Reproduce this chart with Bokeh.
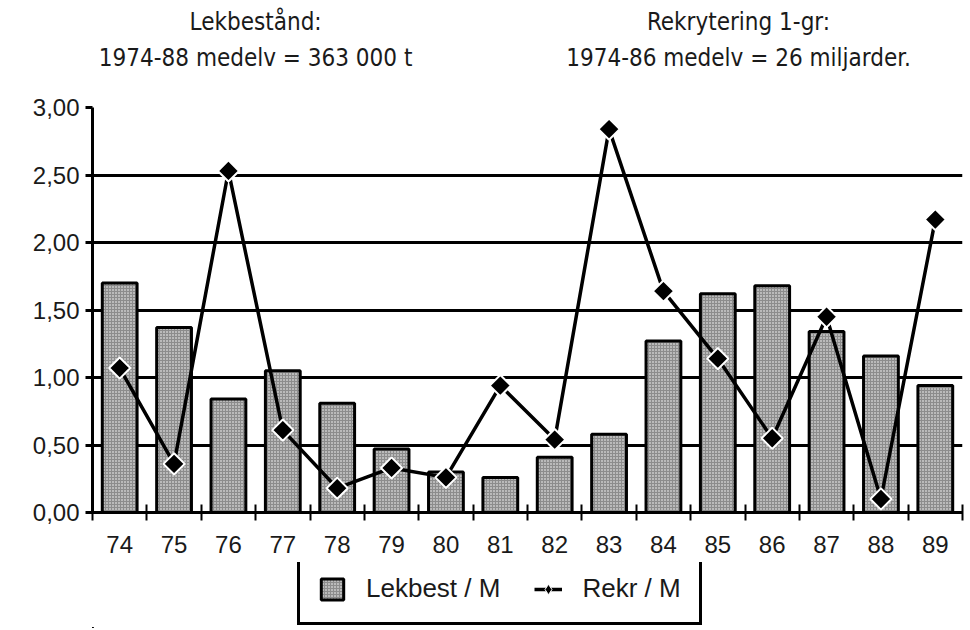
import numpy as np
from bokeh.plotting import figure
from bokeh.layouts import column
from bokeh.models import (ColumnDataSource, FixedTicker, Range1d, Legend, LegendItem)
from bokeh.core.properties import value
from bokeh.embed import file_html
from bokeh.resources import INLINE

years = ["74", "75", "76", "77", "78", "79", "80", "81", "82", "83", "84", "85", "86", "87", "88", "89"]
lekbest = [1.70, 1.37, 0.84, 1.05, 0.81, 0.47, 0.30, 0.26, 0.41, 0.58, 1.27, 1.62, 1.68, 1.34, 1.16, 0.94]
rekr = [1.07, 0.36, 2.53, 0.61, 0.18, 0.33, 0.26, 0.94, 0.54, 2.84, 1.64, 1.14, 0.55, 1.45, 0.10, 2.17]
y_ticks = [0.0, 0.5, 1.0, 1.5, 2.0, 2.5, 3.0]
y_tick_labels = ["0,00", "0,50", "1,00", "1,50", "2,00", "2,50", "3,00"]
title_left = ["Lekbestånd:", "1974-88 medelv = 363 000 t"]
title_right = ["Rekrytering 1-gr:", "1974-86 medelv = 26 miljarder."]
legend_labels = ["Lekbest / M", "Rekr / M"]

FONT = "Liberation Sans"
NARROW = "Liberation Sans Narrow, DejaVu Sans Condensed, Liberation Sans"
TXT = "#1a1a1a"

N = len(years)
W, LEFT, RIGHT = 964, 92, 2
xpos = [i + 0.5 for i in range(N)]
src = ColumnDataSource(dict(x=xpos, lek=lekbest, rekr=rekr))

BAR_STYLE = dict(fill_color="#8c8c8c", line_color="black", line_width=3,
                 hatch_pattern="dot", hatch_color="white", hatch_scale=3, hatch_weight=1.3)
LINE_STYLE = dict(line_color="black", line_width=3.5)
PT_STYLE = dict(marker="square", angle=np.pi / 4, size=15, fill_color="black",
                line_color="white", line_width=2)


def strip(height, xr, yr):
    f = figure(width=W, height=height, output_backend="svg", toolbar_location=None,
               x_axis_type=None, y_axis_type=None, x_range=xr, y_range=yr,
               min_border_left=LEFT, min_border_right=RIGHT, min_border_top=0, min_border_bottom=0)
    f.grid.visible = False
    f.outline_line_color = None
    return f


# ---- title strip (same horizontal scale as the chart) ----
TH = 93
t = strip(TH, Range1d(0, N), Range1d(0, TH))
tsrc = ColumnDataSource(dict(
    x=[3.0, 3.0, 11.88, 11.88],
    y=[TH - 21, TH - 57, TH - 21, TH - 57],
    text=[title_left[0], title_left[1], title_right[0], title_right[1]]))
t.text(x="x", y="y", text="text", source=tsrc, text_align="center", text_baseline="middle",
       text_font=value(NARROW), text_font_size="24px", text_color=TXT)

# ---- main chart ----
p = figure(width=W, height=469, output_backend="svg", toolbar_location=None,
           x_range=Range1d(0, N), y_range=Range1d(0, 3.0),
           min_border_top=14, min_border_left=LEFT, min_border_right=RIGHT, min_border_bottom=50)
p.outline_line_color = None

p.vbar(x="x", top="lek", width=0.64, source=src, **BAR_STYLE)
p.line(x="x", y="rekr", source=src, **LINE_STYLE)
p.scatter(x="x", y="rekr", source=src, **PT_STYLE)

p.xaxis.ticker = FixedTicker(ticks=xpos, minor_ticks=list(range(N + 1)))
p.xaxis.major_label_overrides = {x: y for x, y in zip(xpos, years)}
p.xaxis.major_tick_line_color = None
p.xaxis.minor_tick_in = 8
p.xaxis.minor_tick_out = 8
p.xaxis.minor_tick_line_width = 2
p.xaxis.minor_tick_line_color = "black"
p.xaxis.axis_line_width = 3
p.xaxis.axis_line_color = "black"
p.xaxis.major_label_text_font = FONT
p.xaxis.major_label_text_font_size = "24px"
p.xaxis.major_label_text_color = TXT
p.xaxis.major_label_standoff = 15

p.yaxis.ticker = FixedTicker(ticks=y_ticks)
p.yaxis.major_label_overrides = {tk: lb for tk, lb in zip(y_ticks, y_tick_labels)}
p.yaxis.major_tick_in = 0
p.yaxis.major_tick_out = 7
p.yaxis.major_tick_line_width = 3
p.yaxis.minor_tick_line_color = None
p.yaxis.axis_line_width = 3
p.yaxis.axis_line_color = "black"
p.yaxis.major_label_text_font = FONT
p.yaxis.major_label_text_font_size = "24px"
p.yaxis.major_label_text_color = TXT
p.yaxis.major_label_standoff = 6

p.xgrid.grid_line_color = None
p.ygrid.ticker = FixedTicker(ticks=y_ticks[1:])
p.ygrid.grid_line_color = "black"
p.ygrid.grid_line_width = 3

# ---- legend strip (its own copies of the series, scrolled out of view) ----
lg = strip(66, Range1d(100, 101), Range1d(100, 101))
r_bar = lg.vbar(x="x", top="lek", width=0.64, source=src, **BAR_STYLE)
r_line = lg.line(x="x", y="rekr", source=src, **LINE_STYLE)
r_pt = lg.scatter(x="x", y="rekr", source=src, marker="diamond", size=22,
                  fill_color="black", line_color="white", line_width=1)

legend = Legend(items=[LegendItem(label=legend_labels[0], renderers=[r_bar]),
                       LegendItem(label=legend_labels[1], renderers=[r_line, r_pt])],
                orientation="horizontal", location=(205, 3),
                label_text_font=FONT, label_text_font_size="26px", label_text_color=TXT,
                border_line_color="black", border_line_width=3, border_line_alpha=1.0,
                padding=18, spacing=34, glyph_width=28, glyph_height=26, margin=0,
                label_standoff=20, background_fill_alpha=1.0)
lg.add_layout(legend, "center")

layout = column(t, p, lg, spacing=0)
open("out.html", "w").write(file_html(layout, INLINE))
